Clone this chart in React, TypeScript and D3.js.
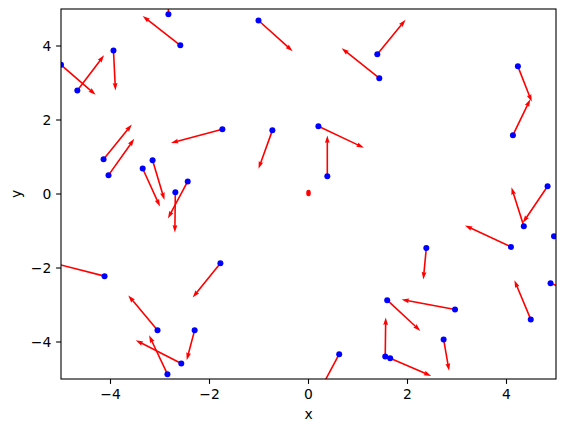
import React from 'react'
import * as d3 from 'd3'

// point positions (blue dots) and the arrow vectors drawn from them
const xs = [-5.0, -4.67, -3.94, -2.83, -2.59, -1.01, 1.39, 1.43, 4.23, 4.13, -1.74, -4.14, -4.04, -3.35, -3.15, -2.69, -2.44, -0.73, 0.2, 0.38, 4.83, 4.35, 4.09, 4.96, -4.12, -1.78, -3.05, -2.3, -2.57, -2.85, 0.62, 2.38, 2.96, 1.59, 2.73, 1.55, 1.65, 4.49, 4.89]
const ys = [3.49, 2.8, 3.88, 4.86, 4.02, 4.69, 3.78, 3.13, 3.45, 1.59, 1.75, 0.94, 0.51, 0.69, 0.91, 0.05, 0.34, 1.72, 1.83, 0.48, 0.21, -0.87, -1.43, -1.14, -2.22, -1.87, -3.68, -3.68, -4.58, -4.87, -4.33, -1.46, -3.12, -2.87, -3.93, -4.39, -4.44, -3.39, -2.41]
const us = [0.7, 0.54, 0.04, 0.0, -0.76, 0.69, 0.57, -0.76, 0.28, 0.35, -1.04, 0.57, 0.52, 0.35, 0.24, -0.01, -0.4, -0.28, 0.92, 0.0, -0.5, -0.25, -0.93, 1.0, -1.05, -0.56, -0.59, -0.16, -0.92, -0.37, -0.4, -0.06, -1.08, 0.67, 0.11, 0.01, 0.83, -0.33, 0.9]
const vs = [-0.81, 0.95, -1.08, 1.0, 0.79, -0.83, 0.93, 0.81, -0.96, 0.97, -0.37, 0.94, 0.98, -1.03, -1.07, -1.09, -1.0, -1.04, -0.58, 1.1, -0.99, 1.05, 0.58, -0.3, 0.36, -0.93, 0.94, -0.81, 0.63, 1.05, -1.0, -0.85, 0.27, -0.83, -0.85, 1.05, -0.48, 1.06, -0.5]

// a lone tiny arrow at the origin (no dot)
const strayX = [0]
const strayY = [0]

const ticks = [-4, -2, 0, 2, 4]

const W = 565
const H = 432
const left = 61
const right = 556
const top = 9
const bottom = 379

const fmt = (t: number) => (t < 0 ? '\u2212' + Math.abs(t) : String(t))

const arrowPath = (x0: number, y0: number, x1: number, y1: number) => {
  const dx = x1 - x0
  const dy = y1 - y0
  const L = Math.hypot(dx, dy)
  const ux = dx / L
  const uy = dy / L
  const nx = -uy
  const ny = ux
  const w = 0.8
  const hw = 2.4
  const hl = 7.5
  const ha = 6.8
  const p = (a: number, b: number) => [x0 + ux * a + nx * b, y0 + uy * a + ny * b]
  const pts = [p(0, w), p(L - ha, w), p(L - hl, hw), p(L, 0), p(L - hl, -hw), p(L - ha, -w), p(0, -w)]
  return 'M' + pts.map(q => q[0].toFixed(2) + ',' + q[1].toFixed(2)).join('L') + 'Z'
}

const App = () => {
  const x = d3.scaleLinear().domain([-5, 5]).range([left, right])
  const y = d3.scaleLinear().domain([-5, 5]).range([bottom, top])
  const font = "'DejaVu Sans', sans-serif"

  return (
    <svg width={W} height={H} style={{ position: 'absolute', left: 0, top: 0, background: '#fff' }}>
      <defs>
        <clipPath id="plot">
          <rect x={left} y={top} width={right - left} height={bottom - top} />
        </clipPath>
      </defs>
      <rect x={0} y={0} width={W} height={H} fill="#fff" />
      <g clipPath="url(#plot)">
        {xs.map((d, i) => (
          <path key={'a' + i} d={arrowPath(x(d), y(ys[i]), x(d + us[i]), y(ys[i] + vs[i]))} fill="#ff0000" />
        ))}
        {strayX.map((d, i) => (
          <ellipse key={'s' + i} cx={x(d)} cy={y(strayY[i]) - 1} rx={2.3} ry={3.2} fill="#ff0000" />
        ))}
        {xs.map((d, i) => (
          <circle key={'p' + i} cx={x(d)} cy={y(ys[i])} r={3} fill="#0000ff" />
        ))}
      </g>
      <rect x={left} y={top} width={right - left} height={bottom - top} fill="none" stroke="#000" strokeWidth={1.1} />
      {ticks.map(t => (
        <g key={'x' + t}>
          <line x1={x(t)} x2={x(t)} y1={bottom} y2={bottom + 4.9} stroke="#000" strokeWidth={1.1} />
          <text x={x(t)} y={bottom + 9.7} dy="0.76em" textAnchor="middle" fontSize={13.9} fontFamily={font}>{fmt(t)}</text>
        </g>
      ))}
      {ticks.map(t => (
        <g key={'y' + t}>
          <line x1={left - 4.9} x2={left} y1={y(t)} y2={y(t)} stroke="#000" strokeWidth={1.1} />
          <text x={left - 9.7} y={y(t)} dy="0.35em" textAnchor="end" fontSize={13.9} fontFamily={font}>{fmt(t)}</text>
        </g>
      ))}
      <text x={(left + right) / 2} y={419} textAnchor="middle" fontSize={13.9} fontFamily={font}>x</text>
      <text transform={`translate(21,${(top + bottom) / 2}) rotate(-90)`} textAnchor="middle" fontSize={13.9} fontFamily={font}>y</text>
    </svg>
  )
}

export default App
